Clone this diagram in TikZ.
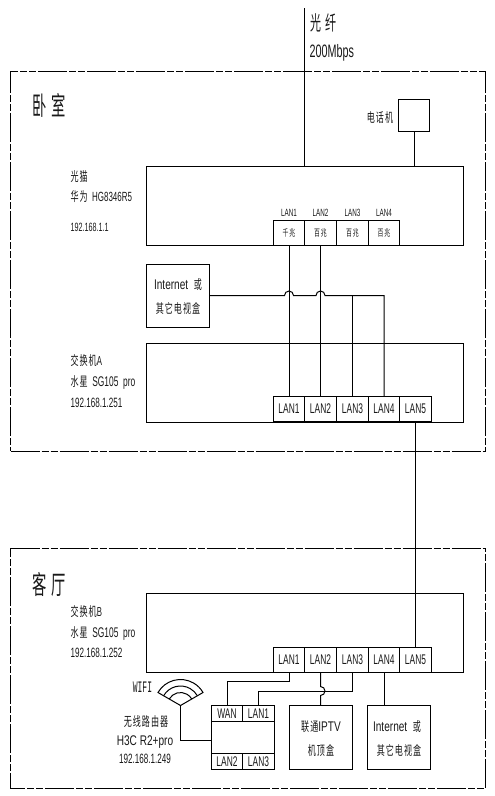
\documentclass[tikz,border=0pt]{standalone}
\usepackage{fontspec}
\setmainfont[FakeStretch=0.6]{Liberation Sans}
\newfontfamily\ancha[FakeStretch=0.72]{Liberation Sans}
\newfontfamily\cjk[FakeStretch=0.62,LetterSpace=8]{Noto Sans CJK SC}
\newfontfamily\cjkroom[FakeStretch=0.55,LetterSpace=18]{Noto Sans CJK SC}
\newfontfamily\wifimono[FakeStretch=0.5]{Liberation Mono}
\usetikzlibrary{calc}

\newcommand{\fs}[1]{\fontsize{#1}{#1}\selectfont}

\tikzset{
  caja/.style={draw,anchor=north west,outer sep=0pt,inner sep=0pt},
  port/.style={caja,minimum height=25pt},
  sala/.style={line width=1pt,dash pattern=on 29pt off 2pt on 7pt off 2pt on 7pt off 2pt},
  txt/.style={inner sep=0pt,text=black!90},
  izq/.style={txt,anchor=west},
  plab/.style={txt,font=\fs{14},text height=10pt,text depth=0pt},
}

\begin{document}
\begin{tikzpicture}[x=1pt,y=-1pt,line width=1pt]
  \useasboundingbox (0,0) rectangle (495,796);
  % habitaciones
  \draw[sala] (10.5,451) -- (485.5,451) -- (485.5,71) -- (10.5,71) -- cycle;
  \draw[sala] (10.5,548) -- (485.5,548) -- (485.5,788) -- (10.5,788) -- cycle;
  \node[txt,font=\cjkroom\fs{26}] (dorm) at (49.5,105) {卧室};
  \node[txt,font=\cjkroom\fs{26}] (estar) at (49.5,584) {客厅};

  % fibra
  \coordinate (fibra) at (304.5,8);
  \node[txt,font=\cjkroom\fs{20}] (fibratxt) at (323.5,23) {光纤};
  \node[izq,font=\fs{18}] (fibravel) at (309,53) {200Mbps};

  % telefono
  \node[caja,minimum width=31pt,minimum height=32pt] (tel) at (398.5,99) {};
  \node[txt,font=\cjk\fs{13}] (teltxt) at (380,118) {电话机};

  % modem
  \node[caja,minimum width=317pt,minimum height=79pt] (modem) at (146.5,166) {};
  \node[izq,font=\cjk\fs{13}] (modem1) at (70,177) {光猫};
  \node[izq,font=\fs{13.3}] (modem2) at (70,197) {{\cjk\fs{13}华为}\ \ HG8346R5};
  \node[izq,font=\fs{12}] (modem3) at (70,227) {192.168.1.1};
  \node[caja,minimum width=31pt,minimum height=25pt] (ma) at (273.5,220) {};
  \node[caja,minimum width=32pt,minimum height=25pt] (mb) at (304.5,220) {};
  \node[caja,minimum width=32pt,minimum height=25pt] (mc) at (336.5,220) {};
  \node[caja,minimum width=31pt,minimum height=25pt] (md) at (368.5,220) {};
  \foreach \p/\l/\v in {ma/LAN1/千兆,mb/LAN2/百兆,mc/LAN3/百兆,md/LAN4/百兆}{
    \node[txt,font=\fs{10.5}] (\p t) at ($(\p.north)+(0,-7)$) {\l};
    \node[txt,font=\cjk\fs{9.5}] (\p v) at (\p) {\v};
  }

  % caja internet
  \node[caja,minimum width=63pt,minimum height=63pt] (inet) at (146.5,264) {};
  \node[txt,font=\ancha\fs{14}] (inet1) at (178,285) {Internet\ \ {\cjk\fs{13}或}};
  \node[txt,font=\cjk\fs{13}] (inet2) at (178,309) {其它电视盒};

  % switch A
  \node[caja,minimum width=317pt,minimum height=79pt] (swa) at (146.5,343) {};
  \node[izq,font=\fs{13}] (swa1t) at (70,361) {{\cjk\fs{13}交换机}A};
  \node[izq,font=\fs{14}] (swa2t) at (70,382) {{\cjk\fs{13}水星}\ \ SG105\ \ pro};
  \node[izq,font=\fs{13.5}] (swa3t) at (70,403) {192.168.1.251};
  \node[port,minimum width=31pt] (sa1) at (273.5,396) {};
  \node[port,minimum width=32pt] (sa2) at (304.5,396) {};
  \node[port,minimum width=32pt] (sa3) at (336.5,396) {};
  \node[port,minimum width=31pt] (sa4) at (368.5,396) {};
  \node[port,minimum width=32pt] (sa5) at (399.5,396) {};

  % switch B
  \node[caja,minimum width=317pt,minimum height=79pt] (swb) at (146.5,593) {};
  \node[izq,font=\fs{13}] (swb1t) at (70,612) {{\cjk\fs{13}交换机}B};
  \node[izq,font=\fs{14}] (swb2t) at (70,633) {{\cjk\fs{13}水星}\ \ SG105\ \ pro};
  \node[izq,font=\fs{13.5}] (swb3t) at (70,653) {192.168.1.252};
  \node[port,minimum width=31pt] (sb1) at (273.5,647) {};
  \node[port,minimum width=32pt] (sb2) at (304.5,647) {};
  \node[port,minimum width=32pt] (sb3) at (336.5,647) {};
  \node[port,minimum width=31pt] (sb4) at (368.5,647) {};
  \node[port,minimum width=32pt] (sb5) at (399.5,647) {};
  \foreach \p/\l in {sa1/LAN1,sa2/LAN2,sa3/LAN3,sa4/LAN4,sa5/LAN5,sb1/LAN1,sb2/LAN2,sb3/LAN3,sb4/LAN4,sb5/LAN5}{
    \node[plab] (\p t) at (\p) {\l};
  }

  % router
  \node[caja,minimum width=63pt,minimum height=64pt] (router) at (211.5,705) {};
  \node[caja,minimum width=31pt,minimum height=16pt] (rwan) at (211.5,705) {};
  \node[caja,minimum width=32pt,minimum height=16pt] (rl1) at (242.5,705) {};
  \node[caja,minimum width=31pt,minimum height=16pt] (rl2) at (211.5,753) {};
  \node[caja,minimum width=32pt,minimum height=16pt] (rl3) at (242.5,753) {};
  \foreach \p/\l in {rwan/WAN,rl1/LAN1,rl2/LAN2,rl3/LAN3}{
    \node[plab] (\p t) at (\p) {\l};
  }
  \node[txt,font=\cjk\fs{13}] (rtxt1) at (146,722) {无线路由器};
  \node[txt,font=\ancha\fs{14}] (rtxt2) at (145,742) {H3C\ R2+pro};
  \node[txt,font=\fs{13.5}] (rtxt3) at (145,759) {192.168.1.249};

  % wifi
  \coordinate (ant) at (180.5,705.5);
  \node[txt,font=\wifimono\fs{16}] (wifitxt) at (142.5,687) {WIFI};
  \draw (ant) -- ++(150:26pt) arc (150:30:26pt) -- cycle;
  \draw ($(ant)+(150:19.5pt)$) arc (150:30:19.5pt);
  \draw ($(ant)+(150:13pt)$) arc (150:30:13pt);

  % iptv y caja 2
  \node[caja,minimum width=63pt,minimum height=64pt] (iptv) at (289.5,705) {};
  \node[txt,font=\cjk\fs{13}] (iptv1) at (321,727) {联通{\ancha\fs{14}IPTV}};
  \node[txt,font=\cjk\fs{13}] (iptv2) at (321,751) {机顶盒};
  \node[caja,minimum width=63pt,minimum height=64pt] (inetb) at (367.5,705) {};
  \node[txt,font=\ancha\fs{14}] (inetb1) at (397,727) {Internet\ \ {\cjk\fs{13}或}};
  \node[txt,font=\cjk\fs{13}] (inetb2) at (399,751) {其它电视盒};

  % conexiones
  \draw (fibra) -- (modem.north -| mb.north west);
  \draw (tel.south) -- (tel.south |- modem.north);
  \draw (ma.south) -- (sa1.north);
  \draw (mb.south) -- (sa2.north);
  \coordinate (hopa) at (inet.east -| sa1.north);
  \coordinate (hopb) at (inet.east -| sa2.north);
  \draw (inet.east) -- ($(hopa)+(-4.5,0)$) arc (180:0:4.5pt) -- ($(hopb)+(-4.5,0)$) arc (180:0:4.5pt) -- (inet.east -| sa4.north) -- (sa4.north);
  \draw (inet.east -| sa3.north) -- (sa3.north);
  \draw (sa5.south) -- (sb5.north);
  \draw (sb1.south) |- (rwan.north |- 0,681) -- (rwan.north);
  \coordinate (hopc) at (sb2.south |- 0,691);
  \draw (sb3.south) |- (rl1.north |- 0,691) -- (rl1.north);
  \draw (sb2.south) -- ($(hopc)+(0,-4.5)$) arc (90:-90:4.5pt) -- (sb2.south |- iptv.north);
  \draw (sb4.south) -- (sb4.south |- inetb.north);
  \draw (ant) |- ([yshift=-3pt]router.west);
\end{tikzpicture}
\end{document}
